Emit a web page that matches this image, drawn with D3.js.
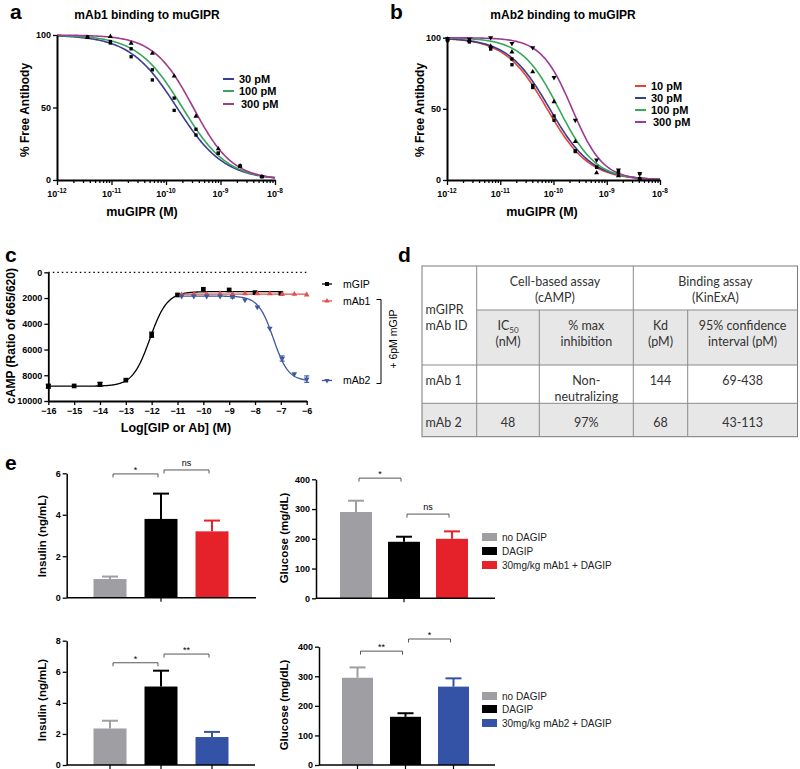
<!DOCTYPE html>
<html><head><meta charset="utf-8">
<script src="https://cdn.jsdelivr.net/npm/d3@7"></script>
<style>
body{margin:0;background:#fff}
svg{display:block}
text{font-family:"Liberation Sans",Arial,sans-serif}
.tbl text{font-family:Lato,"Open Sans",sans-serif;fill:#333}
</style>
</head><body>
<svg id="fig" width="800" height="769"></svg>
<script>
// ================= DATA =================
// Panel a : mAb1 binding to muGIPR
const aLabels = ["30 pM", "100 pM", "300 pM"];
const aLogConc = [-11.44, -11.02, -10.64, -10.25, -9.85, -9.45, -9.04, -8.64, -8.24];
const aFree30  = [98.5, 94.5, 85, 69, 48, 31, 18.5, 9.5, 2.3];
const aFree100 = [98.5, 95.5, 90.5, 76, 56.5, 35, 18.5, 9.7, 2.3];
const aFree300 = [98.3, 99, 94.3, 87.3, 71.7, 44, 21.5, 9.7, 2.3];
const aFitLogIC50 = [-9.8, -9.7, -9.5];
const aFitHill = [1.0, 1.05, 1.2];

// Panel b : mAb2 binding to muGIPR
const bLabels = ["10 pM", "30 pM", "100 pM", "300 pM"];
const bLogConc = [-11.99, -11.58, -11.18, -10.78, -10.39, -9.99, -9.59, -9.19, -8.78, -8.38];
const bFree10  = [98, 97, 92, 81, 65, 42, 20, 9, 5, 1];
const bFree30  = [98.5, 97.5, 93, 85, 66.5, 45, 20.5, 9, 6, 4.5];
const bFree100 = [99, 98, 94, 90, 76, 55, 27, 5, 3, 1];
const bFree300 = [99.5, 99, 100, 96, 93, 72, 42, 14, 7, 4.5];
const bFitLogIC50 = [-10.12, -10.07, -9.9, -9.65];
const bFitHill = [1.1, 1.1, 1.25, 1.5];

// Panel c : cAMP
const cLabels = ["mGIP", "mAb1", "mAb2"];
const cGipLog = [-16, -15, -14, -13, -12, -11, -10, -9, -8, -7];
const cGipVal = [8850, 8830, 8700, 8380, 4850, 1760, 1320, 1370, 1580, 1630];
const cGipErr = [150, 0, 150, 0, 200, 0, 0, 0, 0, 0];
const cAbLog = [-10.84, -10.37, -9.87, -9.35, -8.87, -8.39, -7.91, -7.43, -6.95, -6.48, -6.0];
const cAb1Val = [1750, 1700, 1700, 1650, 1700, 1650, 1650, 1650, 1700, 1700, 1750];
const cAb2Val = [1850, 1850, 1850, 1850, 1900, 2150, 2700, 4350, 6700, 7900, 8300];
const cAb2Err = [0, 0, 0, 0, 100, 0, 0, 0, 200, 0, 250];
// 4PL fits: [low-x plateau, high-x plateau, logEC50, hill]
const cFitGip = [8850, 1500, -12.07, 1.3];
const cFitAb1 = [1700, 1700, -8, 1];
const cFitAb2 = [1850, 8450, -7.29, 1.5];
const cXTicks = [-16, -15, -14, -13, -12, -11, -10, -9, -8, -7, -6];
const cYTicks = [0, 2000, 4000, 6000, 8000, 10000];

// Panel d : table
const dRows = [
  ["mAb 1", "", "Non-|neutralizing", "144", "69-438"],
  ["mAb 2", "48", "97%", "68", "43-113"]
];

// Panel e
const eGroups1 = ["no DAGIP", "DAGIP", "30mg/kg mAb1 + DAGIP"];
const eGroups2 = ["no DAGIP", "DAGIP", "30mg/kg mAb2 + DAGIP"];
const eIns1 = [0.9, 3.8, 3.2];   const eIns1Err = [0.12, 1.22, 0.52];
const eGlu1 = [290, 190, 200];   const eGlu1Err = [38, 17, 25];
const eIns2 = [2.35, 5.05, 1.8]; const eIns2Err = [0.5, 1.02, 0.33];
const eGlu2 = [295, 163, 265];   const eGlu2Err = [35, 12, 28];
const eSigIns1 = [[0, 1, 5.97, "*"], [1, 2, 6.16, "ns"]];
const eSigGlu1 = [[0, 1, 404, "*"], [1, 2, 283, "ns"]];
const eSigIns2 = [[0, 1, 6.58, "*"], [1, 2, 7.14, "**"]];
const eSigGlu2 = [[0, 1, 385, "**"], [1, 2, 426, "*"]];

// ================= DRAW =================
const svg = d3.select("#fig");
const fourPL = (p, x) => p[0] + (p[1] - p[0]) / (1 + Math.pow(10, (p[2] - x) * p[3]));
const intFmt = d3.format("d");

function letter(t, x, y) {
  svg.append("text").attr("x", x).attr("y", y).attr("font-size", 21).attr("font-weight", "bold").text(t);
}
function marker(g, type, x, y, size, color) {
  const sym = type === "sq" ? d3.symbolSquare : d3.symbolTriangle;
  const p = g.append("path").attr("d", d3.symbol().type(sym).size(size)())
    .attr("fill", color);
  p.attr("transform", `translate(${x},${y})` + (type === "tdown" ? " rotate(180)" : ""));
}

// ---------- binding panels ----------
function bindingPanel(o) {
  const g = svg.append("g");
  const xs = d3.scaleLog().domain([1e-12, 1e-8]).range([o.x0, o.x1]);
  const ys = d3.scaleLinear().domain([0, 100]).range([o.yb, o.yt]);
  o.series.forEach((s, i) => {
    const pts = d3.range(-12, -7.999, 0.02).map(l => [xs(Math.pow(10, l)), ys(fourPL([100, 0, o.ic50[i], o.hill[i]], l))]);
    g.append("path").attr("d", d3.line()(pts)).attr("fill", "none").attr("stroke", o.colors[i]).attr("stroke-width", 1.6);
  });
  o.series.forEach((s, i) => {
    s.forEach((v, j) => marker(g, o.marks[i], xs(Math.pow(10, o.logc[j])), ys(v), 11, "#000"));
  });
  const yAx = g.append("g").attr("transform", `translate(${o.x0},0)`)
    .call(d3.axisLeft(ys).tickValues([0, 50, 100]).tickFormat(intFmt).tickSize(4).tickSizeOuter(0));
  const xAx = g.append("g").attr("transform", `translate(0,${o.yb})`)
    .call(d3.axisBottom(xs).tickFormat("").tickSize(3).tickSizeOuter(0));
  xAx.selectAll(".tick line").attr("y2", d => Math.abs(Math.log10(d) - Math.round(Math.log10(d))) < 1e-6 ? 5 : 3);
  [yAx, xAx].forEach(a => { a.select(".domain").attr("stroke-width", 2); a.selectAll(".tick line").attr("stroke-width", 1.3); });
  yAx.selectAll("text").attr("font-size", 9).attr("font-weight", "bold").attr("fill", "#000").attr("x", -6);
  [-12, -11, -10, -9, -8].forEach(e => {
    const t = g.append("text").attr("x", xs(Math.pow(10, e))).attr("y", o.yb + 17).attr("text-anchor", "middle")
      .attr("font-size", 9).attr("font-weight", "bold");
    t.append("tspan").text("10");
    t.append("tspan").attr("dy", -4).attr("font-size", 6.5).text(String(e));
  });
  g.append("text").attr("x", o.titleX).attr("y", 19).attr("text-anchor", "middle").attr("font-size", 12)
    .attr("font-weight", "bold").text(o.title);
  g.append("text").attr("x", o.xlabX).attr("y", 216).attr("text-anchor", "middle").attr("font-size", 12.5)
    .attr("font-weight", "bold").text("muGIPR (M)");
  g.append("text").attr("transform", `translate(${o.ylabX},110) rotate(-90)`).attr("text-anchor", "middle")
    .attr("dy", "0.35em").attr("font-size", 12).attr("font-weight", "bold").text("% Free Antibody");
  o.labels.forEach((l, i) => {
    const y = o.legY[i];
    g.append("line").attr("x1", o.legX).attr("x2", o.legX + 11).attr("y1", y).attr("y2", y)
      .attr("stroke", o.colors[i]).attr("stroke-width", 2);
    g.append("text").attr("x", o.legX + 16 + (i === o.labels.length - 1 ? 2 : 0)).attr("y", y).attr("dy", "0.36em")
      .attr("font-size", 11).attr("font-weight", "bold").text(l);
  });
}

bindingPanel({
  x0: 57, x1: 275, yb: 180, yt: 35, logc: aLogConc,
  series: [aFree30, aFree100, aFree300], ic50: aFitLogIC50, hill: aFitHill,
  colors: ["#3b3d8e", "#3aa55c", "#a13c8a"], marks: ["sq", "sq", "tri"],
  labels: aLabels, legX: 223, legY: [79, 91, 104],
  title: "mAb1 binding to muGIPR", titleX: 147, xlabX: 142, ylabX: 25
});
bindingPanel({
  x0: 447, x1: 660, yb: 180, yt: 37.7, logc: bLogConc,
  series: [bFree10, bFree30, bFree100, bFree300], ic50: bFitLogIC50, hill: bFitHill,
  colors: ["#e6423c", "#3b3d8e", "#37a85a", "#9e3b96"], marks: ["sq", "sq", "tri", "tdown"],
  labels: bLabels, legX: 635, legY: [86, 98, 110, 122],
  title: "mAb2 binding to muGIPR", titleX: 563, xlabX: 542, ylabX: 420
});
letter("a", 10, 19);
letter("b", 390, 19);

// ---------- panel c ----------
(function () {
  const g = svg.append("g");
  const xs = d3.scaleLinear().domain([-16, -6]).range([48.3, 306.7]);
  const ys = d3.scaleLinear().domain([0, 10000]).range([272.3, 401]);
  const colors = ["#000", "#e0504c", "#3d5a9e"];
  g.append("line").attr("x1", xs(-16)).attr("x2", xs(-6)).attr("y1", ys(0)).attr("y2", ys(0))
    .attr("stroke", "#000").attr("stroke-width", 1.2).attr("stroke-dasharray", "1.5,3");
  const curve = (p, a, b) => d3.line()(d3.range(a, b + 0.001, 0.02).map(l => [xs(l), ys(fourPL(p, l))]));
  g.append("path").attr("d", curve(cFitGip, -16, -7)).attr("fill", "none").attr("stroke", colors[0]).attr("stroke-width", 1.3);
  g.append("path").attr("d", curve(cFitAb1, -11, -6)).attr("fill", "none").attr("stroke", colors[1]).attr("stroke-width", 1.3);
  g.append("path").attr("d", curve(cFitAb2, -11, -6)).attr("fill", "none").attr("stroke", colors[2]).attr("stroke-width", 1.3);
  const errs = (logs, vals, err, col) => logs.forEach((l, i) => {
    if (!err[i]) return;
    const x = xs(l);
    g.append("line").attr("x1", x).attr("x2", x).attr("y1", ys(vals[i] - err[i])).attr("y2", ys(vals[i] + err[i])).attr("stroke", col).attr("stroke-width", 1.2);
    [-err[i], err[i]].forEach(d => g.append("line").attr("x1", x - 2.5).attr("x2", x + 2.5).attr("y1", ys(vals[i] + d)).attr("y2", ys(vals[i] + d)).attr("stroke", col).attr("stroke-width", 1.2));
  });
  errs(cGipLog, cGipVal, cGipErr, colors[0]);
  errs(cAbLog, cAb2Val, cAb2Err, colors[2]);
  cGipLog.forEach((l, i) => marker(g, "sq", xs(l), ys(cGipVal[i]), 22, colors[0]));
  cAbLog.forEach((l, i) => marker(g, "tri", xs(l), ys(cAb1Val[i]), 14, colors[1]));
  cAbLog.forEach((l, i) => marker(g, "tdown", xs(l), ys(cAb2Val[i]), 14, colors[2]));
  const yAx = g.append("g").attr("transform", `translate(${xs(-16)},0)`)
    .call(d3.axisLeft(ys).tickValues(cYTicks).tickFormat(intFmt).tickSize(4).tickSizeOuter(0));
  const xAx = g.append("g").attr("transform", `translate(0,${ys(10000)})`)
    .call(d3.axisBottom(xs).tickValues(cXTicks).tickFormat(intFmt).tickSize(4).tickSizeOuter(0));
  [yAx, xAx].forEach(a => {
    a.select(".domain").attr("stroke-width", 1.8);
    a.selectAll(".tick line").attr("stroke-width", 1.3);
    a.selectAll("text").attr("font-size", 9).attr("font-weight", "bold").attr("fill", "#000");
  });
  yAx.selectAll("text").attr("x", -6);
  xAx.selectAll("text").attr("y", 7);
  g.append("text").attr("transform", "translate(11,336) rotate(-90)").attr("text-anchor", "middle")
    .attr("dy", "0.35em").attr("font-size", 12).attr("font-weight", "bold").text("cAMP (Ratio of 665/620)");
  g.append("text").attr("x", 176).attr("y", 432).attr("text-anchor", "middle").attr("font-size", 12.5)
    .attr("font-weight", "bold").text("Log[GIP or Ab] (M)");
  const legY = [284, 301, 380.5];
  const legM = ["sq", "tri", "tdown"];
  cLabels.forEach((l, i) => {
    g.append("line").attr("x1", 322).attr("x2", 332).attr("y1", legY[i]).attr("y2", legY[i]).attr("stroke", colors[i]).attr("stroke-width", 1.3);
    marker(g, legM[i], 327, legY[i], i === 0 ? 16 : 12, colors[i]);
    g.append("text").attr("x", 343).attr("y", legY[i]).attr("dy", "0.35em").attr("font-size", 10.5).text(l);
  });
  g.append("path").attr("d", "M376.5,299.5H381V383.5H376.5").attr("fill", "none").attr("stroke", "#000").attr("stroke-width", 1);
  g.append("text").attr("transform", "translate(393.5,339) rotate(-90)").attr("text-anchor", "middle")
    .attr("dy", "0.35em").attr("font-size", 10.5).text("+ 6pM mGIP");
})();
letter("c", 5, 262);

// ---------- panel d (table) ----------
(function () {
  const g = svg.append("g").attr("class", "tbl");
  const X = [422, 476.7, 539.3, 633.3, 687.7, 797.5];
  const Y = [266, 310, 365, 403.3, 436.7];
  const fill = "#e7e7e7";
  g.append("rect").attr("x", X[1]).attr("y", Y[1]).attr("width", X[5] - X[1]).attr("height", Y[2] - Y[1]).attr("fill", fill);
  g.append("rect").attr("x", X[0]).attr("y", Y[3]).attr("width", X[5] - X[0]).attr("height", Y[4] - Y[3]).attr("fill", fill);
  const ln = (x1, y1, x2, y2) => g.append("line").attr("x1", x1).attr("y1", y1).attr("x2", x2).attr("y2", y2)
    .attr("stroke", "#8a8a8a").attr("stroke-width", 1);
  g.append("rect").attr("x", X[0]).attr("y", Y[0]).attr("width", X[5] - X[0]).attr("height", Y[4] - Y[0])
    .attr("fill", "none").attr("stroke", "#7a7a7a").attr("stroke-width", 1);
  ln(X[1], Y[0], X[1], Y[4]); ln(X[3], Y[0], X[3], Y[4]);
  ln(X[2], Y[1], X[2], Y[4]); ln(X[4], Y[1], X[4], Y[4]);
  ln(X[1], Y[1], X[5], Y[1]); ln(X[0], Y[2], X[5], Y[2]); ln(X[0], Y[3], X[5], Y[3]);
  const fs = 12.5;
  const txt = (t, x, y, anchor) => g.append("text").attr("x", x).attr("y", y).attr("dy", "0.35em")
    .attr("text-anchor", anchor || "middle").attr("font-size", fs).text(t);
  const cx = i => (X[i] + X[i + 1]) / 2;
  txt("Cell-based assay", (X[1] + X[3]) / 2, 281.5); txt("(cAMP)", (X[1] + X[3]) / 2, 298);
  txt("Binding assay", (X[3] + X[5]) / 2, 281.5); txt("(KinExA)", (X[3] + X[5]) / 2, 298);
  txt("mGIPR", 425.5, 310, "start"); txt("mAb ID", 425.5, 326, "start");
  const ic = g.append("text").attr("x", cx(1)).attr("y", 326).attr("dy", "0.35em").attr("text-anchor", "middle").attr("font-size", fs);
  ic.append("tspan").text("IC");
  ic.append("tspan").attr("font-size", 8).attr("dy", 3).text("50");
  txt("(nM)", cx(1), 342);
  txt("% max", cx(2), 326); txt("inhibition", cx(2), 342);
  txt("Kd", cx(3), 326); txt("(pM)", cx(3), 342);
  txt("95% confidence", cx(4), 326); txt("interval (pM)", cx(4), 342);
  const rowY = [381, 423];
  dRows.forEach((r, ri) => {
    txt(r[0], 425.5, rowY[ri], "start");
    r.slice(1).forEach((c, ci) => {
      const parts = c.split("|");
      parts.forEach((p, k) => txt(p, cx(ci + 1), rowY[ri] + k * 16));
    });
  });
})();
letter("d", 398, 262);

// ---------- panel e ----------
function barPanel(o) {
  const g = svg.append("g");
  const ys = d3.scaleLinear().domain([0, o.ymax]).range([o.y0, o.yt]);
  const xb = d3.scaleBand().domain(o.groups).range([o.c0 - o.step / 2, o.c0 + o.step * 2.5])
    .paddingInner(1 - o.bw / o.step).paddingOuter((1 - o.bw / o.step) / 2);
  const bw = xb.bandwidth();
  o.vals.forEach((v, i) => {
    const x = xb(o.groups[i]), c = x + bw / 2;
    g.append("line").attr("x1", c).attr("x2", c).attr("y1", ys(v)).attr("y2", ys(v + o.errs[i])).attr("stroke", o.colors[i]).attr("stroke-width", 2);
    g.append("line").attr("x1", c - 8).attr("x2", c + 8).attr("y1", ys(v + o.errs[i])).attr("y2", ys(v + o.errs[i])).attr("stroke", o.colors[i]).attr("stroke-width", 2);
    g.append("rect").attr("x", x).attr("y", ys(v)).attr("width", bw).attr("height", ys(0) - ys(v)).attr("fill", o.colors[i]);
  });
  const yAx = g.append("g").attr("transform", `translate(${o.ax},0)`)
    .call(d3.axisLeft(ys).tickValues(o.ticks).tickFormat(intFmt).tickSize(4).tickSizeOuter(0));
  yAx.select(".domain").attr("stroke-width", 1.5);
  yAx.selectAll(".tick line").attr("stroke-width", 1.3);
  yAx.selectAll("text").attr("font-size", 9).attr("font-weight", "bold").attr("fill", "#000").attr("x", -6);
  g.append("line").attr("x1", o.ax).attr("x2", o.axEnd).attr("y1", o.y0).attr("y2", o.y0).attr("stroke", "#000").attr("stroke-width", 1.5);
  o.tickIdx.forEach(i => {
    const c = xb(o.groups[i]) + bw / 2;
    g.append("line").attr("x1", c).attr("x2", c).attr("y1", o.y0).attr("y2", o.y0 + 4).attr("stroke", "#000").attr("stroke-width", 1.2);
  });
  o.sig.forEach(s => {
    const xa = xb(o.groups[s[0]]) + bw / 2 + 3, xe = xb(o.groups[s[1]]) + bw / 2 - 3, y = ys(s[2]);
    g.append("path").attr("d", `M${xa},${y + 3.5}V${y}H${xe}V${y + 3.5}`).attr("fill", "none").attr("stroke", "#444").attr("stroke-width", 0.9);
    g.append("text").attr("x", (xa + xe) / 2).attr("y", y - (s[3] === "ns" ? 4 : 1)).attr("text-anchor", "middle")
      .attr("font-size", 9).text(s[3]);
  });
  g.append("text").attr("transform", `translate(${o.labX},${o.labY}) rotate(-90)`).attr("text-anchor", "middle")
    .attr("dy", "0.35em").attr("font-size", 11.5).attr("font-weight", "bold").text(o.label);
  if (o.legend) {
    o.groups.forEach((gname, i) => {
      const y = o.legend[i];
      g.append("rect").attr("x", 482).attr("y", y - 4).attr("width", 15).attr("height", 8).attr("fill", o.colors[i]);
      g.append("text").attr("x", 502).attr("y", y).attr("dy", "0.35em").attr("font-size", 10).attr("fill", "#222").text(gname);
    });
  }
}
const gray = "#9e9ea3", red = "#e52129", blue = "#3553a6";
barPanel({ groups: eGroups1, vals: eIns1, errs: eIns1Err, colors: [gray, "#000", red], ymax: 6, ticks: [0, 2, 4, 6],
  y0: 597.7, yt: 473.3, ax: 66.7, axEnd: 256, c0: 110, step: 51, bw: 33, tickIdx: [1], sig: eSigIns1,
  label: "Insulin (ng/mL)", labX: 42, labY: 536 });
barPanel({ groups: eGroups1, vals: eGlu1, errs: eGlu1Err, colors: [gray, "#000", red], ymax: 400, ticks: [0, 100, 200, 300, 400],
  y0: 598.3, yt: 479.3, ax: 316, axEnd: 495, c0: 356, step: 48, bw: 32, tickIdx: [1], sig: eSigGlu1,
  label: "Glucose (mg/dL)", labX: 284, labY: 538, legend: [537, 551, 565] });
barPanel({ groups: eGroups2, vals: eIns2, errs: eIns2Err, colors: [gray, "#000", blue], ymax: 8, ticks: [0, 2, 4, 6, 8],
  y0: 765, yt: 640.7, ax: 66.7, axEnd: 255, c0: 110, step: 51, bw: 33, tickIdx: [0, 1, 2], sig: eSigIns2,
  label: "Insulin (ng/mL)", labX: 42, labY: 700 });
barPanel({ groups: eGroups2, vals: eGlu2, errs: eGlu2Err, colors: [gray, "#000", blue], ymax: 400, ticks: [0, 100, 200, 300, 400],
  y0: 765, yt: 646.7, ax: 319, axEnd: 495, c0: 357.5, step: 48, bw: 31, tickIdx: [0, 1, 2], sig: eSigGlu2,
  label: "Glucose (mg/dL)", labX: 284, labY: 705, legend: [696, 709, 723] });
letter("e", 5, 470);
</script>
</body></html>
